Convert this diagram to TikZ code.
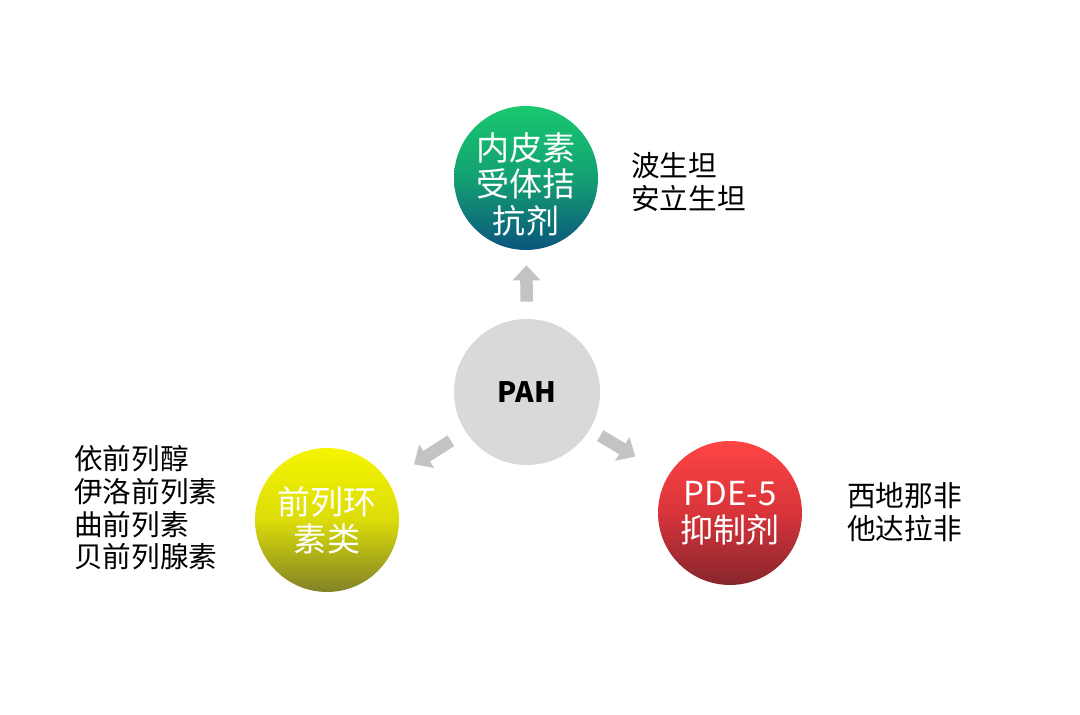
\documentclass[tikz,border=0pt]{standalone}
\usepackage{fontspec}
\setmainfont{Noto Sans CJK SC}
\usetikzlibrary{arrows.meta}
\definecolor{arrgray}{HTML}{C3C3C3}
\definecolor{pahgray}{HTML}{D9D9D9}
\tikzset{
  catcircle/.style={circle, minimum size=2.88cm, inner sep=0pt, text=white, align=center,
     font=\fontsize{18.8}{21}\selectfont},
  sidetext/.style={anchor=west, align=left, inner sep=0pt, font=\fontsize{16.3}{18.6}\selectfont},
  blockarrow/.style={draw=arrgray, line width=0.25cm, -{Triangle[width=0.54cm,length=0.3cm]}},
}
\begin{document}
\begin{tikzpicture}[x=0.02cm,y=-0.02cm]
\useasboundingbox[fill=white] (0,0) rectangle (1080,715);
\node[circle, minimum size=2.92cm, inner sep=0pt, fill=pahgray, font=\fontsize{16}{19}\selectfont\bfseries] (pah) at (527,392) {PAH};
\node[catcircle, top color={rgb,255:red,24;green,200;blue,110}, bottom color={rgb,255:red,10;green,85;blue,125}, middle color={rgb,255:red,20;green,160;blue,115},
  label={[text=white, align=center, font=\fontsize{18.8}{21}\selectfont, yshift=-0.13cm]center:{内皮素\\受体拮\\抗剂}}] (top) at (526,178) {};
\node[catcircle, top color={rgb,255:red,245;green,245;blue,0}, bottom color={rgb,255:red,130;green,130;blue,40}, middle color={rgb,255:red,220;green,220;blue,10}] (left) at (327,520) {前列环\\素类};
\node[catcircle, top color={rgb,255:red,255;green,68;blue,68}, bottom color={rgb,255:red,135;green,38;blue,45}, middle color={rgb,255:red,215;green,52;blue,58}] (right) at (730,513) {PDE-5\\抑制剂};
\draw[blockarrow, shorten <=0.34cm, shorten >=0.3cm] (pah) -- (top);
\draw[blockarrow, shorten <=0.34cm, shorten >=0.62cm] (pah) -- (left);
\draw[blockarrow, shorten <=0.24cm, shorten >=0.76cm] (pah) -- (right);
\node[sidetext] (toptext) at (631,182) {波生坦\\安立生坦};
\node[sidetext] (lefttext) at (74,508) {依前列醇\\伊洛前列素\\曲前列素\\贝前列腺素};
\node[sidetext] (righttext) at (847,512) {西地那非\\他达拉非};
\end{tikzpicture}
\end{document}
